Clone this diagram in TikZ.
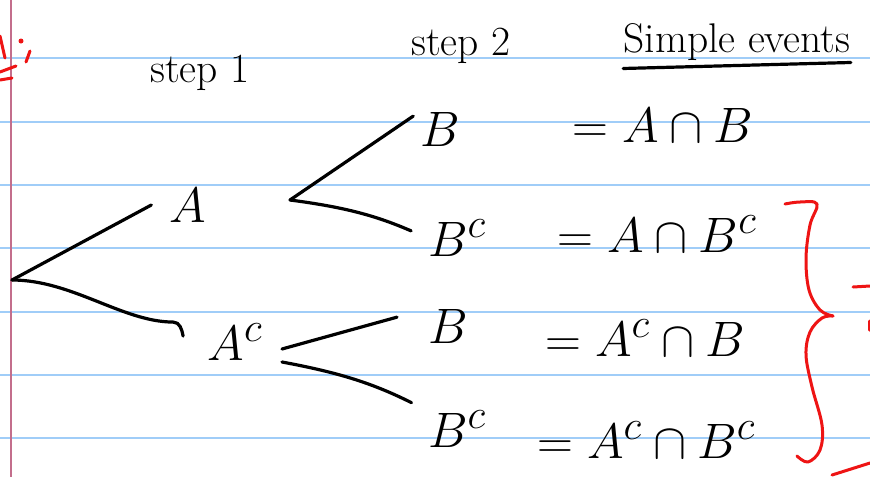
\documentclass[tikz,border=0pt]{standalone}
\definecolor{rulecol}{RGB}{160,205,248}
\definecolor{margincol}{RGB}{195,110,140}
\definecolor{redink}{RGB}{238,20,20}

\begin{document}
\begin{tikzpicture}[x=0.5pt, y=-0.5pt,
    rule/.style={draw=rulecol, line width=1pt},
    ink/.style={draw=black, line width=1.6pt, line cap=round, line join=round},
    pen/.style={draw=redink, line width=1.5pt, line cap=round, line join=round},
    lbl/.style={inner sep=0pt, anchor=base, font=\Huge},
    head/.style={inner sep=0pt, anchor=base, font=\huge}
  ]
  \useasboundingbox[fill=white] (0,0) rectangle (870,477);
  % ruled paper
  \foreach \y in {58,122,185,248,312,375,438}
    \draw[rule] (0,\y) -- (870,\y);
  \draw[draw=margincol, line width=1pt] (11,0) -- (11,477);

  % headings
  \node[head] (step1) at (200,82) {step 1};
  \node[head] (step2) at (461,55) {step 2};
  \node[head] (title) at (737,52) {Simple events};
  \draw[ink] ([yshift=-4pt]title.south west) -- ([yshift=-1pt]title.south east);

  % tree
  \coordinate (root) at (12,280);
  \node[lbl] (A) at (188,222) {$A$};
  \node[lbl] (Ac) at (235,360) {$A^{c}$};
  \node[lbl] (B1) at (440,146) {$B$};
  \node[lbl] (B2) at (457,256) {$B^{c}$};
  \node[lbl] (B3) at (448,343) {$B$};
  \node[lbl] (B4) at (457,447) {$B^{c}$};
  \coordinate (Afork) at (290,200);
  \coordinate (Acup) at (282,349);
  \coordinate (Aclow) at (282,362);

  \draw[ink] (root) -- ([xshift=-9pt]A.west);
  \draw[ink] (root) .. controls +(60,0) and +(-50,0) .. ([shift={(-17pt,10pt)}]Ac.west)
    to[out=0,in=100] ++(10,14);
  \draw[ink, shorten >=4pt] (Afork) -- (B1.north west);
  \draw[ink, shorten >=9pt] (Afork) to[bend left=8] (B2.west);
  \draw[ink, shorten >=16pt] (Acup) -- (B3.north west);
  \draw[ink, shorten >=9pt] (Aclow) to[bend left=8] (B4.north west);

  % simple events
  \node[lbl, anchor=base west] (E1) at (572,142) {$= A \cap B$};
  \node[lbl, anchor=base west] (E2) at (557,252) {$= A \cap B^{c}$};
  \node[lbl, anchor=base west] (E3) at (545,356) {$= A^{c} \cap B$};
  \node[lbl, anchor=base west] (E4) at (537,458) {$= A^{c} \cap B^{c}$};

  % red marks
  \draw[pen] (0,36) -- (5,58);
  \fill[redink] (21,41) circle (2.5);
  \draw[pen] (30,51) -- (26,62);
  \draw[pen] (0,72) -- (16,66);
  \draw[pen] (0,80) -- (12,78);
  \draw[pen] plot[smooth, tension=0.6] coordinates {(785,204) (800,202) (817,204) (810,225) (806,258) (809,290) (820,310) (833,316)};
  \draw[pen] plot[smooth, tension=0.6] coordinates {(833,316) (822,318) (810,332) (806,355) (812,387) (822,425) (820,450) (808,462) (797,456)};
  \draw[pen] (853,287) -- (870,286);
  \draw[pen] (869,321) -- (869,330);
  \draw[pen] (832,475) -- (870,463);
\end{tikzpicture}
\end{document}
